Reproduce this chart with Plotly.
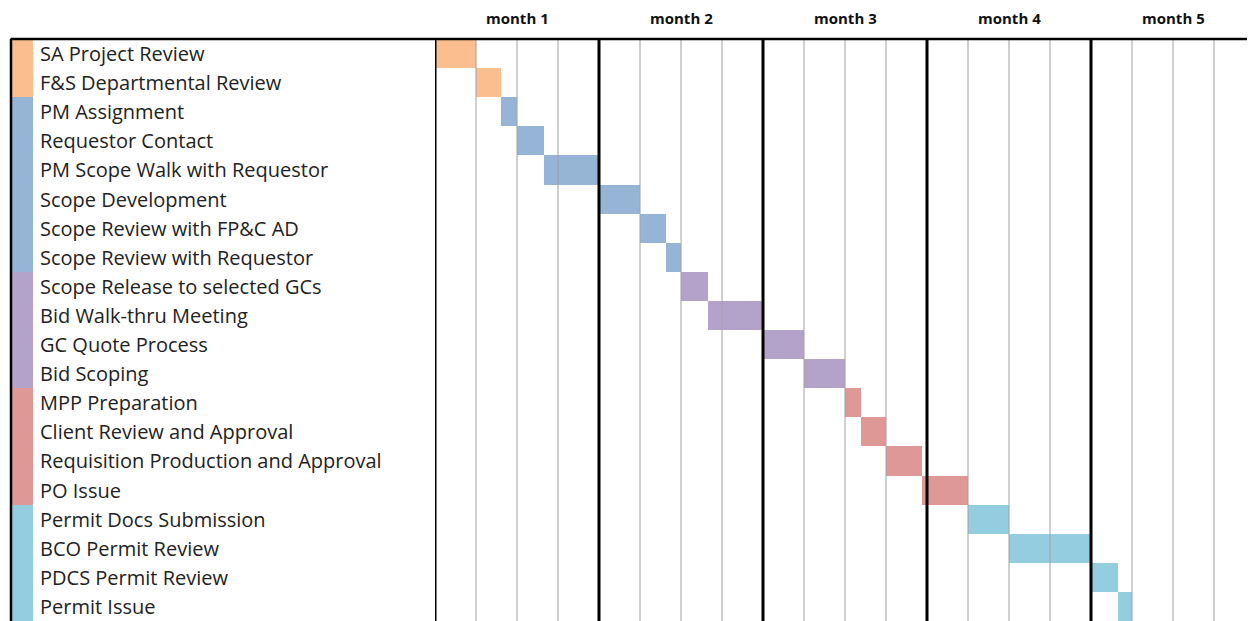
import plotly.graph_objects as go

tasks = [
    "SA Project Review", "F&S Departmental Review",
    "PM Assignment", "Requestor Contact", "PM Scope Walk with Requestor",
    "Scope Development", "Scope Review with FP&C AD", "Scope Review with Requestor",
    "Scope Release to selected GCs", "Bid Walk-thru Meeting", "GC Quote Process", "Bid Scoping",
    "MPP Preparation", "Client Review and Approval", "Requisition Production and Approval", "PO Issue",
    "Permit Docs Submission", "BCO Permit Review", "PDCS Permit Review", "Permit Issue",
]
# start and end in weeks
start_wk = [0, 1.0, 1.6, 2.0, 2.66, 4.0, 5.0, 5.63, 6.0, 6.66, 8.0, 9.0,
            10.0, 10.4, 11.0, 11.87, 13.0, 14.0, 16.0, 16.66]
end_wk = [1.0, 1.6, 2.0, 2.66, 4.0, 5.0, 5.63, 6.0, 6.66, 8.0, 9.0, 10.0,
          10.4, 11.0, 11.87, 13.0, 14.0, 16.0, 16.66, 17.0]
groups = ["SA", "SA", "PM", "PM", "PM", "PM", "PM", "PM",
          "BID", "BID", "BID", "BID", "PO", "PO", "PO", "PO",
          "PERMIT", "PERMIT", "PERMIT", "PERMIT"]
group_colors = {"SA": "#FBBF8F", "PM": "#96B4D6", "BID": "#B3A3CA",
                "PO": "#DE9996", "PERMIT": "#94CDDF"}
months = ["month 1", "month 2", "month 3", "month 4", "month 5"]
weeks_per_month = 4

# page has an 8px body margin; size the figure so it fills the window
OFF = 8
W, H = 1255 - OFF, 621 - OFF
colors = [group_colors[g] for g in groups]
durations = [e - s for s, e in zip(start_wk, end_wk)]
n_weeks = len(months) * weeks_per_month

fig = go.Figure()
fig.add_trace(go.Bar(
    y=tasks, x=durations, base=start_wk, orientation="h",
    marker=dict(color=colors, line=dict(width=0)),
    xaxis="x", yaxis="y", showlegend=False, hoverinfo="y",
))
fig.add_trace(go.Bar(
    y=tasks, x=[1] * len(tasks), orientation="h",
    marker=dict(color=colors, line=dict(width=0)),
    xaxis="x2", yaxis="y", showlegend=False, hoverinfo="y",
))

shapes = []
for w in range(n_weeks + 1):
    is_month = (w % weeks_per_month == 0) and w < n_weeks
    if w == n_weeks:
        col, wid = "#666666", 1.5
    elif is_month:
        col, wid = "#000000", 3
    else:
        col, wid = "#A0A0A0", 1
    shapes.append(dict(type="line", xref="x", yref="paper", x0=w, x1=w, y0=0, y1=1,
                       line=dict(color=col, width=wid), layer="above"))
# frame: top line and left line
shapes.append(dict(type="line", xref="paper", yref="paper", x0=(10.5 - OFF) / W, x1=1, y0=1, y1=1,
                   line=dict(color="#000000", width=2.5), layer="above"))
shapes.append(dict(type="line", xref="paper", yref="paper", x0=(11 - OFF) / W, x1=(11 - OFF) / W,
                   y0=0, y1=1, line=dict(color="#000000", width=2.5), layer="above"))

annotations = []
for i, m in enumerate(months):
    annotations.append(dict(x=i * weeks_per_month + weeks_per_month / 2, xref="x",
                            y=1, yref="paper", yanchor="middle", yshift=21, height=16,
                            borderpad=0, text="<b>" + m + "</b>", showarrow=False,
                            font=dict(family="Open Sans", size=15, color="#111111")))
for t in tasks:
    annotations.append(dict(x=(38 - OFF) / W, xref="paper", xanchor="left", y=t, yref="y",
                            text=t.replace("&", "&amp;"), showarrow=False,
                            font=dict(family="Open Sans", size=20, color="#222222")))

fig.update_layout(
    width=W, height=H,
    margin=dict(l=0, r=0, t=39 - OFF, b=0),
    paper_bgcolor="white", plot_bgcolor="white",
    bargap=0, barmode="overlay",
    xaxis=dict(domain=[(435 - OFF) / W, 1], range=[0, n_weeks], showgrid=False, zeroline=False,
               showticklabels=False, ticks="", anchor="y"),
    xaxis2=dict(domain=[(12 - OFF) / W, (33 - OFF) / W], range=[0, 1], showgrid=False,
                zeroline=False, showticklabels=False, ticks="", anchor="y"),
    yaxis=dict(type="category", categoryorder="array", categoryarray=tasks,
               range=[len(tasks) - 0.5, -0.5], showgrid=False, zeroline=False,
               showticklabels=False, ticks="", anchor="x"),
    shapes=shapes, annotations=annotations,
    font=dict(family="Open Sans"),
)

fig.write_html("out.html")
